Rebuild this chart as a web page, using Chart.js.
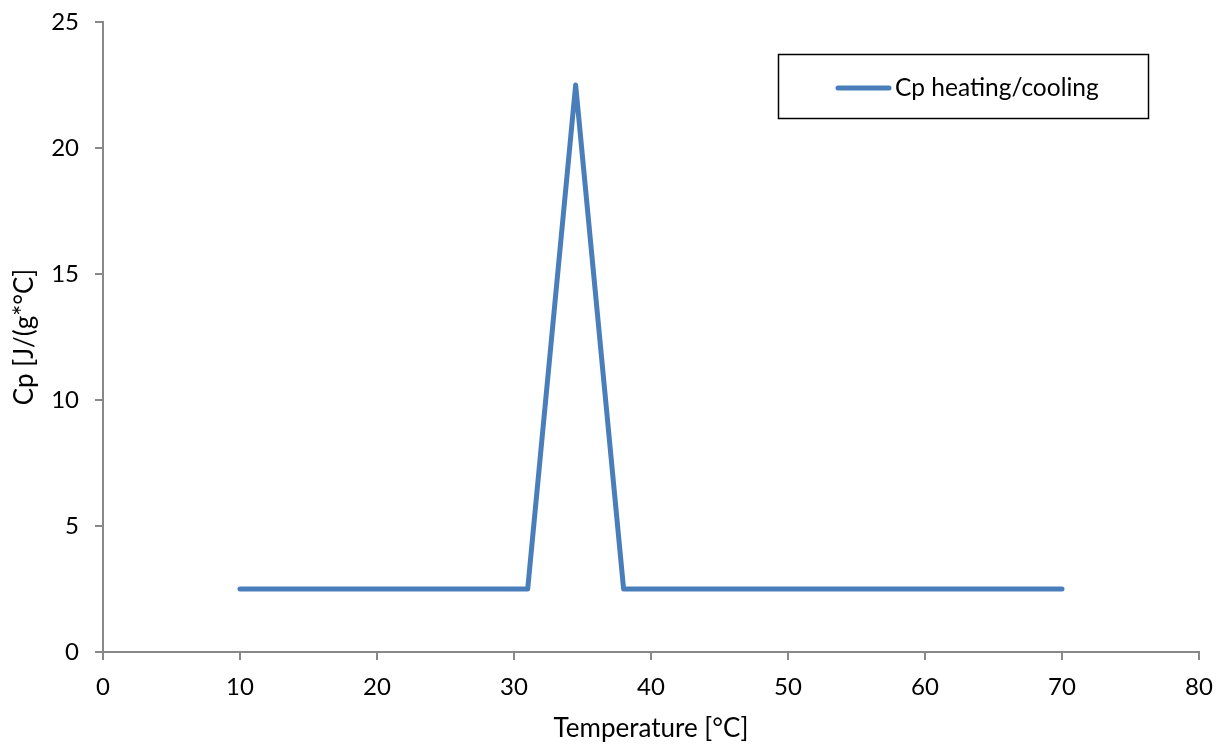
<!DOCTYPE html>
<html>
<head>
<meta charset="utf-8">
<script src="https://cdn.jsdelivr.net/npm/chart.js@4/dist/chart.umd.min.js"></script>
<style>
html,body{margin:0;padding:0;background:#fff;}
#wrap{width:1220px;height:744px;}
</style>
</head>
<body>
<div id="wrap"><canvas id="c" width="1220" height="744"></canvas></div>
<script>
const temperature = [10, 31, 34.5, 38, 43.3, 70];
const cp = [2.5, 2.5, 22.5, 2.5, 2.5, 2.5];
const seriesName = 'Cp heating/cooling';
const xTitle = 'Temperature [°C]';
const yTitle = 'Cp [J/(g*°C]';

const FONT = 'Lato, "Open Sans", sans-serif';

const boxLegend = {
  id: 'boxLegend',
  afterDraw(chart) {
    const ctx = chart.ctx;
    const ds = chart.data.datasets[0];
    ctx.save();
    ctx.strokeStyle = '#000';
    ctx.lineWidth = 1.5;
    ctx.strokeRect(778.5, 54.5, 370, 64);
    ctx.strokeStyle = ds.borderColor;
    ctx.lineWidth = 5;
    ctx.lineCap = 'round';
    ctx.beginPath();
    ctx.moveTo(838, 88);
    ctx.lineTo(889, 88);
    ctx.stroke();
    ctx.fillStyle = '#000';
    ctx.font = '24.5px ' + FONT;
    ctx.textBaseline = 'middle';
    ctx.textAlign = 'left';
    ctx.fillText(ds.label, 895, 88);
    ctx.restore();
  }
};

new Chart(document.getElementById('c'), {
  type: 'line',
  data: {
    datasets: [{
      label: seriesName,
      data: temperature.map((t, i) => ({x: t, y: cp[i]})),
      borderColor: '#4a7ebb',
      backgroundColor: '#4a7ebb',
      borderWidth: 5,
      pointRadius: 0,
      tension: 0,
      borderCapStyle: 'round',
      borderJoinStyle: 'round'
    }]
  },
  options: {
    responsive: false,
    animation: false,
    devicePixelRatio: 1,
    layout: {padding: {top: 22, right: 21, left: 0, bottom: 0}},
    plugins: {legend: {display: false}, tooltip: {enabled: false}},
    scales: {
      x: {
        type: 'linear',
        min: 0, max: 80,
        ticks: {stepSize: 10, color: '#000', font: {size: 24, family: FONT}, padding: 13, maxRotation: 0},
        grid: {drawOnChartArea: false, drawTicks: true, tickLength: 8, color: '#888', lineWidth: 2},
        border: {color: '#888', width: 2},
        title: {display: true, text: xTitle, color: '#000', font: {size: 26, family: FONT}, padding: {top: 2, bottom: 0}},
        afterFit(s) { s.height = 92; s.paddingLeft = 0; s.paddingRight = 0; }
      },
      y: {
        min: 0, max: 25,
        ticks: {stepSize: 5, color: '#000', font: {size: 24, family: FONT}, padding: 16},
        grid: {drawOnChartArea: false, drawTicks: true, tickLength: 8, color: '#888', lineWidth: 2},
        border: {color: '#888', width: 2},
        title: {display: true, text: yTitle, color: '#000', font: {size: 26, family: FONT}, padding: {top: 9, bottom: 6}},
        afterFit(s) { s.width = 103; s.paddingTop = 0; s.paddingBottom = 0; }
      }
    }
  },
  plugins: [boxLegend]
});
</script>
</body>
</html>
